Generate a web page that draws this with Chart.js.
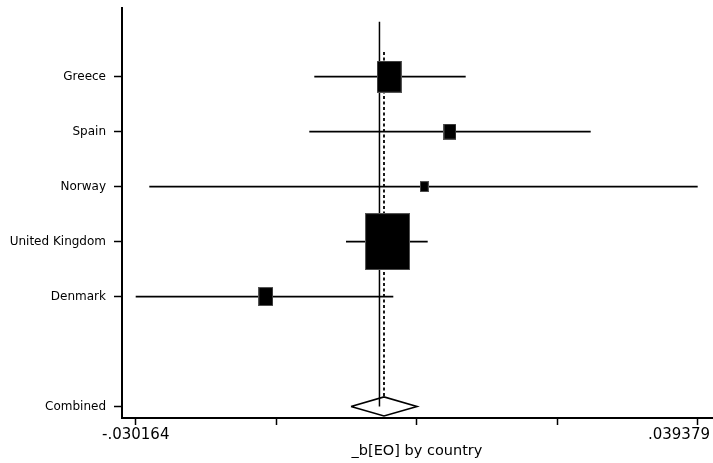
<!DOCTYPE html>
<html><head><meta charset="utf-8">
<script src="https://cdn.jsdelivr.net/npm/chart.js@4/dist/chart.umd.min.js"></script>
<style>html,body{margin:0;padding:0;background:#fff}#wrap{width:713px;height:463px}</style>
</head><body><div id="wrap"><canvas id="c" width="713" height="463"></canvas></div>
<script>
// ---- data ----
const studies = ["Greece", "Spain", "Norway", "United Kingdom", "Denmark"];
const estimates = [0.001205, 0.008728, 0.005548, 0.000995, -0.014065];
const lowerCI = [-0.008064, -0.008682, -0.028481, -0.004141, -0.030164];
const upperCI = [0.010671, 0.026139, 0.039379, 0.005969, 0.001712];
const weights = [20.0, 5.7, 2.4, 64.7, 7.2];
const combinedLabel = "Combined";
const combinedEstimate = 0.000561;
const combinedLower = -0.003522;
const combinedUpper = 0.004645;
const xTickValues = [-0.030164, -0.01277825, 0.0046075, 0.02199325, 0.039379];
const xTickLabels = ["-.030164", "", "", "", ".039379"];
const xAxisTitle = "_b[EO] by country";

// ---- layout / style ----
const FAMILY = '"DejaVu Sans", sans-serif';
const studyPos = studies.map((s, i) => i + 1);
const combinedPos = studies.length + 2;
const yTickValues = studyPos.concat([combinedPos]);
const yTickLabels = studies.concat([combinedLabel]);
const diamondHalf = 0.173;
const BOX_SCALE = 5.6, BOX_ASPECT = 1.26;

function boxImage(w) {
  const cw = Math.max(3, Math.round(BOX_SCALE * Math.sqrt(w)));
  const ch = Math.max(3, Math.round(cw * BOX_ASPECT));
  const cv = document.createElement('canvas');
  cv.width = cw; cv.height = ch;
  const g = cv.getContext('2d');
  g.fillStyle = '#555'; g.fillRect(0, 0, cw, ch);
  g.fillStyle = '#000'; g.fillRect(1, 1, cw - 2, ch - 2);
  return cv;
}

const datasets = [];
// boxes (on top)
datasets.push({
  data: studies.map((s, i) => ({x: estimates[i], y: studyPos[i]})),
  pointStyle: weights.map(boxImage),
  pointRadius: 10, showLine: false, order: 0, clip: false
});
// CI lines
studies.forEach((s, i) => {
  datasets.push({
    data: [{x: lowerCI[i], y: studyPos[i]}, {x: upperCI[i], y: studyPos[i]}],
    showLine: true, borderColor: '#000', borderWidth: 1.8, pointRadius: 0, order: 1, clip: false
  });
});
// null line
datasets.push({
  data: [{x: 0, y: 0}, {x: 0, y: combinedPos}],
  showLine: true, borderColor: '#000', borderWidth: 1.5, pointRadius: 0, order: 2, clip: false
});
// combined estimate dotted line
datasets.push({
  data: [{x: combinedEstimate, y: 0.55}, {x: combinedEstimate, y: combinedPos - diamondHalf}],
  showLine: true, borderColor: '#000', borderWidth: 1.8, borderDash: [3, 2.5], pointRadius: 0, order: 2, clip: false
});
// diamond
datasets.push({
  data: [
    {x: combinedLower, y: combinedPos},
    {x: combinedEstimate, y: combinedPos - diamondHalf},
    {x: combinedUpper, y: combinedPos},
    {x: combinedEstimate, y: combinedPos + diamondHalf},
    {x: combinedLower, y: combinedPos}
  ],
  showLine: true, borderColor: '#000', borderWidth: 1.6, pointRadius: 0, tension: 0, order: 1, clip: false
});

const lastLabelPlugin = {
  id: 'lastLabel',
  afterDraw(chart) {
    const xs = chart.scales.x;
    const i = xTickValues.length - 1;
    const txt = xTickLabels[i];
    const ctx = chart.ctx;
    ctx.save();
    ctx.font = '15px ' + FAMILY;
    ctx.fillStyle = '#000';
    ctx.textAlign = 'right';
    ctx.textBaseline = 'middle';
    const w = ctx.measureText(txt).width;
    const px = xs.getPixelForValue(xTickValues[i]);
    const right = Math.min(px + w / 2, chart.width - 3);
    const y = xs.top + 7 + 1 + 15 * 1.2 / 2;
    ctx.fillText(txt, right, y);
    ctx.restore();
  }
};

new Chart(document.getElementById('c'), {
  type: 'scatter',
  data: {datasets},
  plugins: [lastLabelPlugin],
  options: {
    responsive: false, animation: false, devicePixelRatio: 1, events: [],
    layout: {autoPadding: false, padding: {top: 8, right: 1, left: 0, bottom: 0}},
    plugins: {legend: {display: false}, tooltip: {enabled: false}},
    scales: {
      x: {
        type: 'linear', min: -0.031859, max: 0.041149,
        afterBuildTicks: s => { s.ticks = xTickValues.map(v => ({value: v})); },
        afterFit: s => { s.height = 45; s.paddingRight = 0; s.paddingLeft = 0; },
        ticks: {
          autoSkip: false, maxRotation: 0, padding: 1, color: '#000',
          font: {family: FAMILY, size: 15},
          callback: (v, i) => (i === xTickValues.length - 1 ? '' : xTickLabels[i])
        },
        grid: {drawOnChartArea: false, drawTicks: true, tickLength: 7, tickWidth: 1.5, tickColor: '#000'},
        border: {display: true, color: '#000', width: 2},
        title: {display: true, text: xAxisTitle, color: '#000', font: {family: FAMILY, size: 14.5}, padding: {top: 0, bottom: 3}}
      },
      y: {
        type: 'linear', reverse: true, min: -0.25, max: 7.21,
        afterBuildTicks: s => { s.ticks = yTickValues.map(v => ({value: v})); },
        afterFit: s => { s.width = 122; s.paddingTop = 0; s.paddingBottom = 0; },
        ticks: {
          autoSkip: false, padding: 8, color: '#000', font: {family: FAMILY, size: 12},
          callback: v => { const k = yTickValues.indexOf(v); return k >= 0 ? yTickLabels[k] : ''; }
        },
        grid: {drawOnChartArea: false, drawTicks: true, tickLength: 8, tickWidth: 1.5, tickColor: '#000'},
        border: {display: true, color: '#000', width: 2}
      }
    }
  }
});
</script>
</body></html>
